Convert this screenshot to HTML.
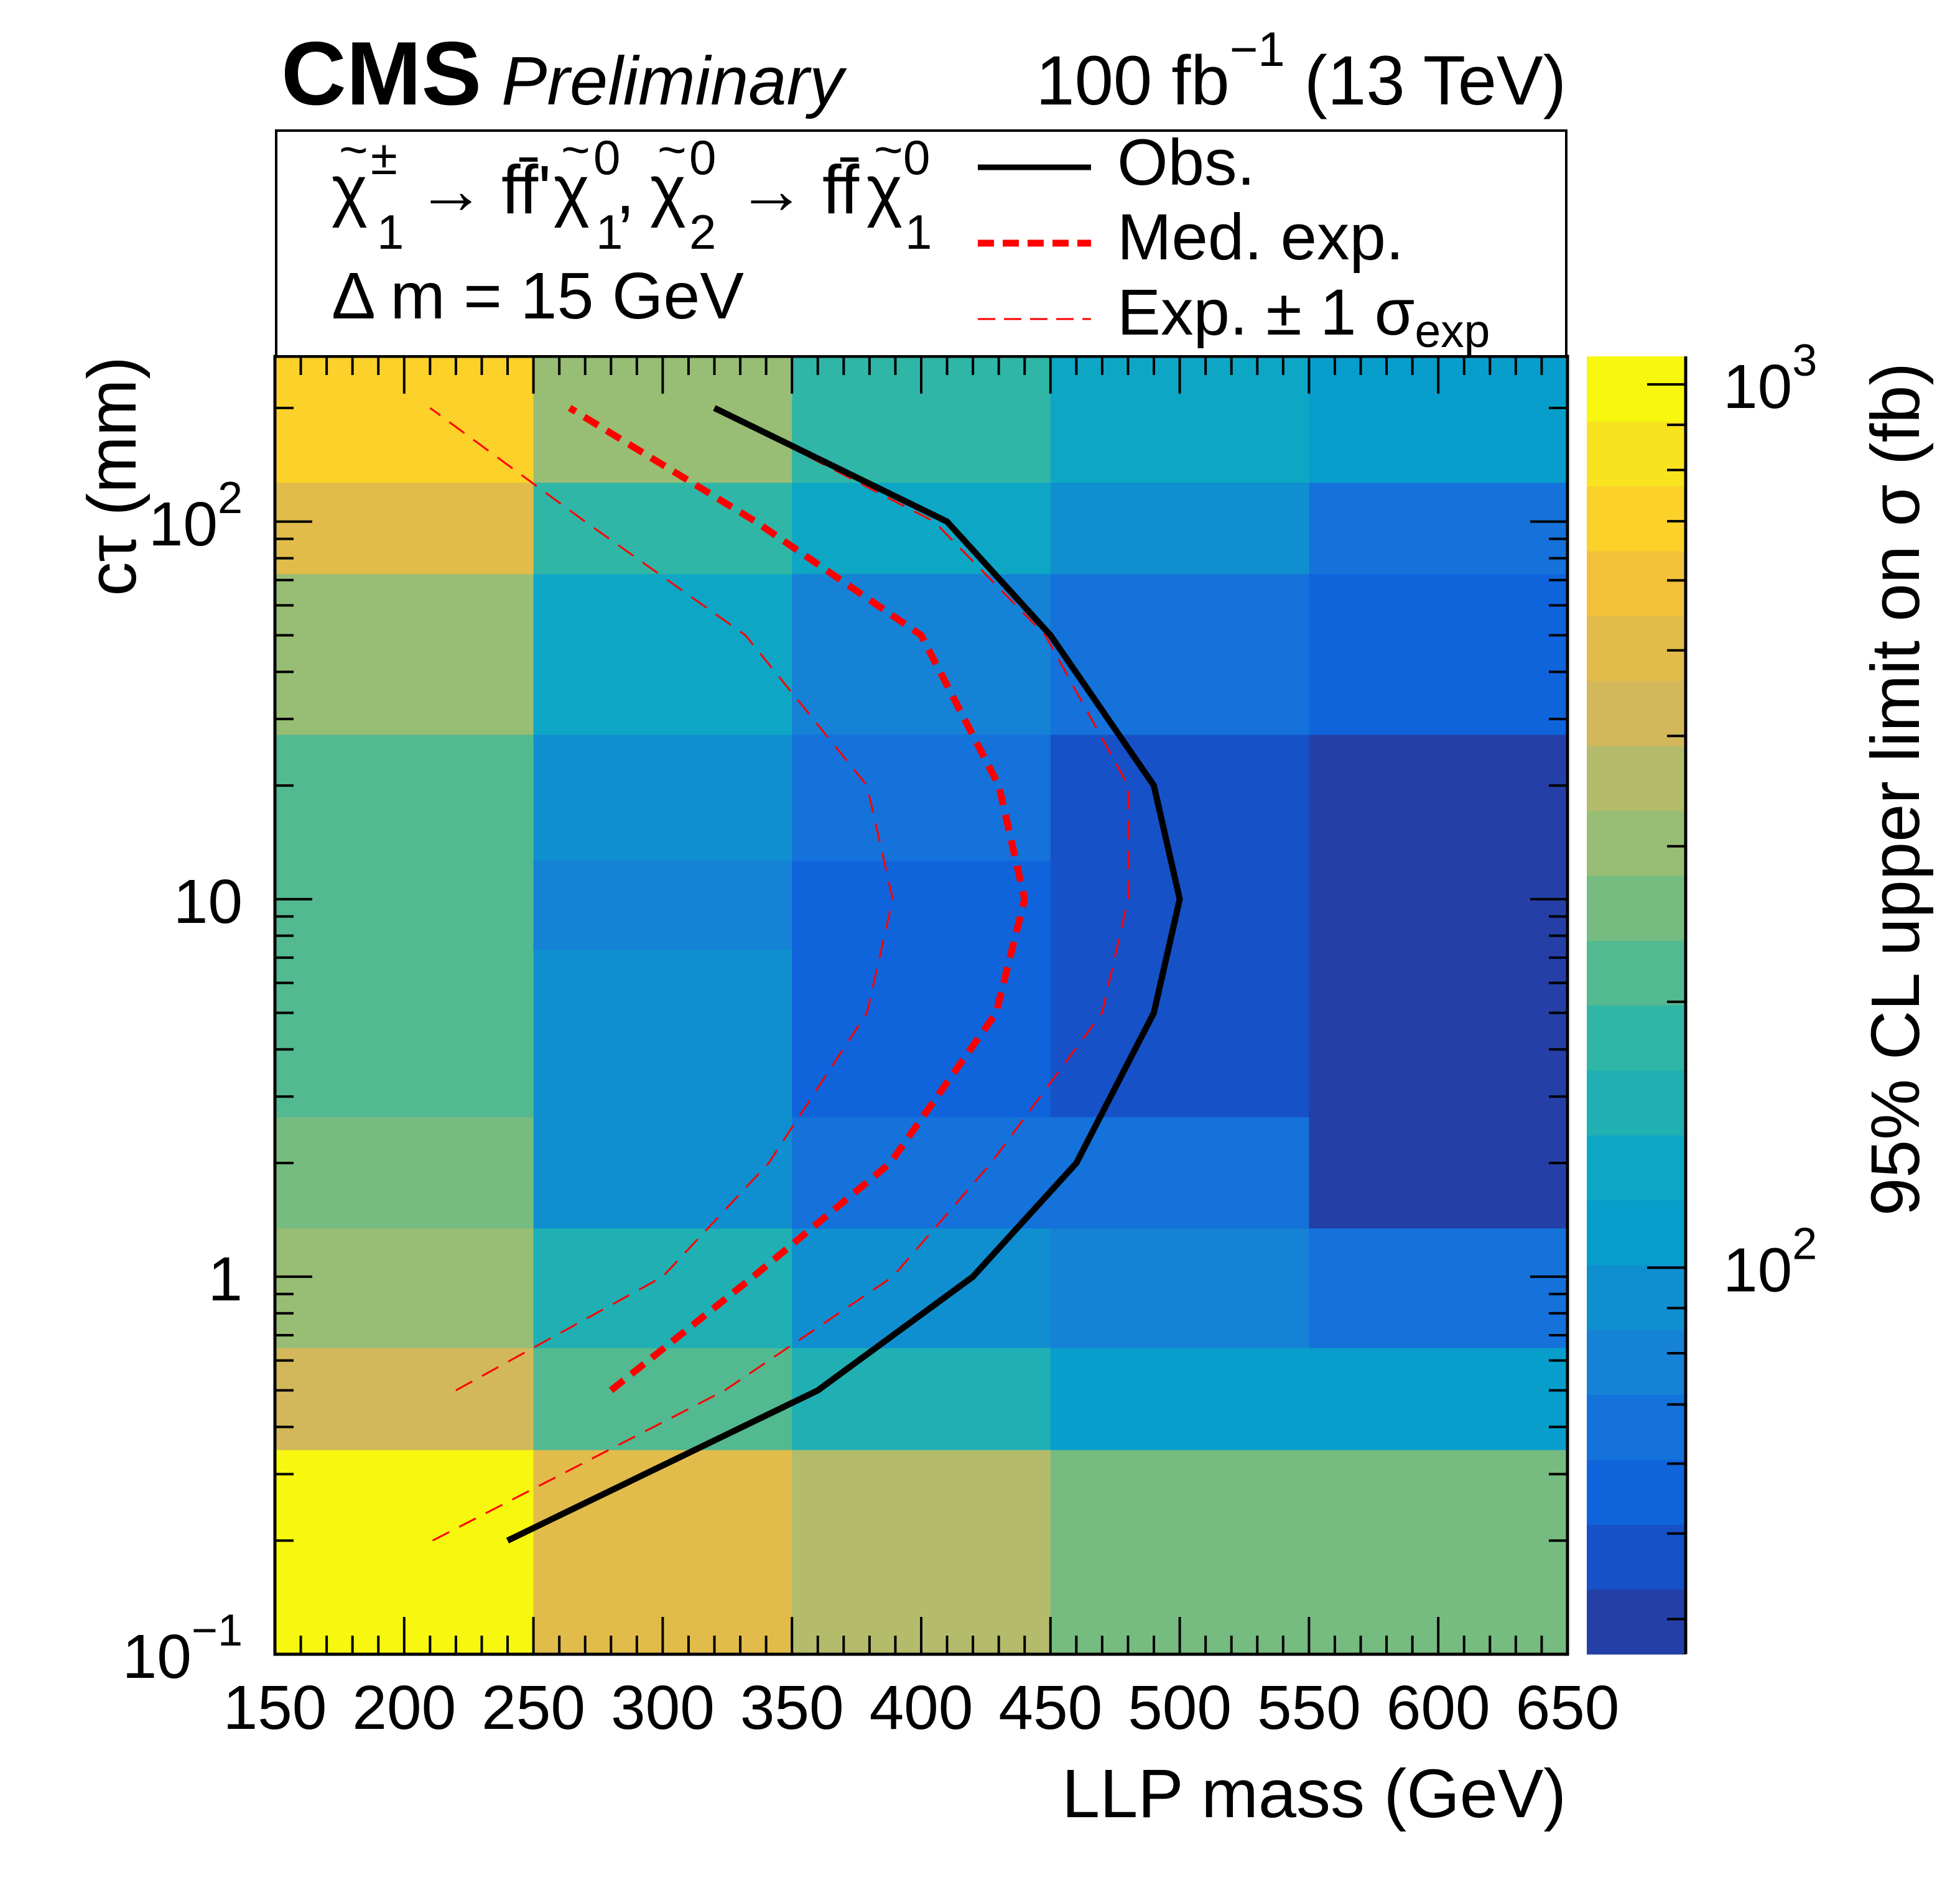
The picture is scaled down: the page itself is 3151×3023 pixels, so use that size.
<!DOCTYPE html>
<html><head><meta charset="utf-8"><style>
html,body{margin:0;padding:0;background:#fff;}
svg{display:block;font-family:"Liberation Sans",sans-serif;}
</style></head><body>
<svg id="chart" width="3151" height="3023" viewBox="0 0 3151 3023" xmlns="http://www.w3.org/2000/svg">
<rect width="3151" height="3023" fill="#fff"/>
<g id="cells"></g>
<g id="curves"></g>
<g id="cbar"></g>
<g id="axes"></g>
<rect x="444" y="210" width="2074" height="363" fill="#fff" stroke="#000" stroke-width="4"/>
<text x="452" y="168" font-size="145" font-weight="bold">CMS</text>
<text x="806" y="168" font-size="110" font-style="italic">Preliminary</text>
<text x="2518" y="168" font-size="112" text-anchor="end">100 fb<tspan font-size="78" dy="-62">−1</tspan><tspan dy="62"> (13 TeV)</tspan></text>
<g font-size="110">
<text x="533" y="343">χ</text><text x="545" y="268" font-size="80">~</text>
<text x="596" y="280" font-size="78">±</text><text x="606" y="400" font-size="78">1</text>
<text x="670" y="343" textLength="100">→</text>
<text x="806" y="343">ff̄'</text>
<text x="890" y="343">χ</text><text x="902" y="268" font-size="80">~</text>
<text x="954" y="280" font-size="78">0</text><text x="958" y="400" font-size="78">1</text>
<text x="990" y="343">,</text>
<text x="1045" y="343">χ</text><text x="1057" y="268" font-size="80">~</text>
<text x="1108" y="280" font-size="78">0</text><text x="1108" y="400" font-size="78">2</text>
<text x="1185" y="343" textLength="100">→</text>
<text x="1322" y="343">ff̄</text>
<text x="1393" y="343">χ</text><text x="1405" y="268" font-size="80">~</text>
<text x="1452" y="280" font-size="78">0</text><text x="1455" y="400" font-size="78">1</text>
</g>
<text x="533" y="512" font-size="106">Δ m = 15 GeV</text>
<line x1="1572" y1="269" x2="1754" y2="269" stroke="#000" stroke-width="9"/>
<text x="1796" y="297" font-size="105">Obs.</text>
<line x1="1572" y1="391" x2="1754" y2="391" stroke="#f00" stroke-width="11" stroke-dasharray="26 14"/>
<text x="1796" y="417" font-size="105">Med. exp.</text>
<line x1="1572" y1="513" x2="1754" y2="513" stroke="#f00" stroke-width="3" stroke-dasharray="28 14"/>
<text x="1796" y="538" font-size="105">Exp. ± 1 σ<tspan font-size="75" dy="20">exp</tspan></text>
<text x="2518" y="2922" font-size="110" text-anchor="end">LLP mass (GeV)</text>
<text transform="translate(218,573) rotate(-90)" font-size="110" text-anchor="end">cτ (mm)</text>
<text transform="translate(3085,583) rotate(-90)" font-size="110" text-anchor="end">95% CL upper limit on σ (fb)</text>
</svg>
<script>
const massEdges = [150, 250, 350, 450, 550, 650];
const ctEdges = [0.1, 0.348, 0.648, 1.345, 2.65, 7.36, 12.65, 27.3, 72.7, 127, 274];
const zRow0 = [990, 500, 360, 255, 255];
const zRow1 = [425, 215, 155, 110, 110];
const zRow2 = [300, 155, 92, 78, 66];
const zRow3 = [255, 92, 66, 66, 40];
const zRow4 = [215, 92, 56, 47, 40];
const zRow5 = [215, 78, 56, 47, 40];
const zRow6 = [215, 92, 66, 47, 40];
const zRow7 = [300, 130, 78, 66, 56];
const zRow8 = [500, 180, 130, 92, 66];
const zRow9 = [705, 300, 180, 130, 110];
const zRows = [zRow0, zRow1, zRow2, zRow3, zRow4, zRow5, zRow6, zRow7, zRow8, zRow9];
const obsCt = [0.2, 0.5, 1, 2, 5, 10, 20, 50, 100, 200];
const obsMass = [240, 360, 420, 460, 490, 500, 490, 450, 410, 320];
const medCt = [0.5, 1, 2, 5, 10, 20, 50, 100, 200];
const medMass = [280, 335, 388, 429, 440, 430, 400, 336, 264];
const expLowCt = [0.5, 1, 2, 5, 10, 20, 50, 100, 200];
const expLowMass = [220, 300, 341, 379, 389, 379, 332, 270, 210];
const expHighCt = [0.2, 0.5, 1, 2, 5, 10, 20, 50, 100, 200];
const expHighMass = [211, 324, 389, 427, 470, 480, 480, 448, 405, 320];
const xTicks = [150, 200, 250, 300, 350, 400, 450, 500, 550, 600, 650];
const palette = ["#2440a6","#1651c8","#0f64dc","#1472da","#1582d6","#0f8fd0","#089ecb","#0ea6c5","#20afb3","#30b6a6","#53b991","#76bc80","#98bd74","#b4bc6b","#d2b85a","#e2bc4b","#f3c13a","#fbd12a","#f9e31e","#f7f70f"];
const zMin = 36.5, zMax = 1076;

const PX0 = 442, PX1 = 2520, PY0 = 573, PY1 = 2660;
const xMin = 150, xMax = 650, yMin = 0.1, yMax = 274;
const NS = "http://www.w3.org/2000/svg";
function X(m) { return PX0 + (m - xMin) / (xMax - xMin) * (PX1 - PX0); }
function Y(v) { return PY1 - (Math.log10(v) - Math.log10(yMin)) / (Math.log10(yMax) - Math.log10(yMin)) * (PY1 - PY0); }
const CX0 = 2551, CX1 = 2710;
function Z(v) { return PY1 - (Math.log10(v) - Math.log10(zMin)) / (Math.log10(zMax) - Math.log10(zMin)) * (PY1 - PY0); }
function colorOf(v) {
  let k = Math.floor((Math.log10(v) - Math.log10(zMin)) / (Math.log10(zMax) - Math.log10(zMin)) * palette.length);
  k = Math.max(0, Math.min(palette.length - 1, k));
  return palette[k];
}
function mk(tag, attrs, parent) {
  const e = document.createElementNS(NS, tag);
  for (const k in attrs) e.setAttribute(k, attrs[k]);
  parent.appendChild(e);
  return e;
}
const cells = document.getElementById('cells');
for (let r = 0; r < zRows.length; r++) {
  for (let c = 0; c < massEdges.length - 1; c++) {
    const y0 = Y(ctEdges[r + 1]), y1 = Y(ctEdges[r]);
    const x0 = X(massEdges[c]), x1 = X(massEdges[c + 1]);
    const e = mk('rect', {x: x0, y: y0, width: x1 - x0 + 0.5, height: y1 - y0 + 0.5, fill: colorOf(zRows[r][c])}, cells);
    
    
  }
}
const curves = document.getElementById('curves');
function curve(cts, ms, attrs, name) {
  const pts = cts.map((v, i) => X(ms[i]).toFixed(1) + ',' + Y(v).toFixed(1)).join(' ');
  const e = mk('polyline', Object.assign({points: pts, fill: 'none', 'stroke-linejoin': 'miter'}, attrs), curves);
  
  
}
curve(expLowCt, expLowMass, {stroke: '#f00', 'stroke-width': 3, 'stroke-dasharray': '30 18'}, 'exp-minus-1sigma-line');
curve(expHighCt, expHighMass, {stroke: '#f00', 'stroke-width': 3, 'stroke-dasharray': '30 18'}, 'exp-plus-1sigma-line');
curve(medCt, medMass, {stroke: '#f00', 'stroke-width': 11, 'stroke-dasharray': '26 16'}, 'median-expected-line');
curve(obsCt, obsMass, {stroke: '#000', 'stroke-width': 10}, 'observed-line');

const axes = document.getElementById('axes');
const frame = mk('rect', {x: PX0, y: PY0, width: PX1 - PX0, height: PY1 - PY0, fill: 'none', stroke: '#000', 'stroke-width': 5}, axes);


function tick(x1, y1, x2, y2) {
  const e = mk('line', {x1: x1, y1: y1, x2: x2, y2: y2, stroke: '#000', 'stroke-width': 4}, axes);
  
  
}
for (let m = xMin; m <= xMax; m += 10) {
  const major = (m % 50 === 0);
  const L = major ? 60 : 30;
  tick(X(m), PY1, X(m), PY1 - L);
  tick(X(m), PY0, X(m), PY0 + L);
}
xTicks.forEach(m => {
  const t = mk('text', {x: X(m), y: 2780, 'font-size': 100, 'text-anchor': 'middle'}, axes);
  t.textContent = String(m);
  
  
});
for (let d = -1; d <= 2; d++) {
  for (let m = 1; m <= 9; m++) {
    const v = m * Math.pow(10, d);
    if (v < yMin || v > yMax) continue;
    const L = m === 1 ? 60 : 30;
    tick(PX0, Y(v), PX0 + L, Y(v));
    tick(PX1, Y(v), PX1 - L, Y(v));
  }
}
function ylabel(v, main, sup) {
  const t = mk('text', {x: 390, y: Y(v) + 38, 'font-size': 100, 'text-anchor': 'end'}, axes);
  
  
  if (sup) {
    t.innerHTML = main + '<tspan font-size="72" dy="-52">' + sup + '</tspan>';
  } else t.textContent = main;
}
ylabel(0.1, '10', '−1');
ylabel(1, '1');
ylabel(10, '10');
ylabel(100, '10', '2');

const cbar = document.getElementById('cbar');
for (let k = 0; k < palette.length; k++) {
  const lz0 = Math.log10(zMin) + k * (Math.log10(zMax) - Math.log10(zMin)) / palette.length;
  const lz1 = Math.log10(zMin) + (k + 1) * (Math.log10(zMax) - Math.log10(zMin)) / palette.length;
  const ya = Z(Math.pow(10, lz1)), yb = Z(Math.pow(10, lz0));
  const e = mk('rect', {x: CX0, y: ya, width: CX1 - CX0, height: yb - ya + 0.5, fill: palette[k]}, cbar);
  
  
}
const cl = mk('line', {x1: CX1, y1: PY0, x2: CX1, y2: PY1, stroke: '#000', 'stroke-width': 5}, cbar);


for (let d = 1; d <= 3; d++) {
  for (let m = 1; m <= 9; m++) {
    const v = m * Math.pow(10, d);
    if (v < zMin || v > zMax) continue;
    const L = m === 1 ? 62 : 30;
    const e = mk('line', {x1: CX1, y1: Z(v), x2: CX1 - L, y2: Z(v), stroke: '#000', 'stroke-width': 4}, cbar);
    
    
  }
}
[[1000, '3'], [100, '2']].forEach(p => {
  const t = mk('text', {x: 2770, y: Z(p[0]) + 38, 'font-size': 100}, cbar);
  t.innerHTML = '10<tspan font-size="72" dy="-52">' + p[1] + '</tspan>';
  
  
});
</script>
</body></html>
